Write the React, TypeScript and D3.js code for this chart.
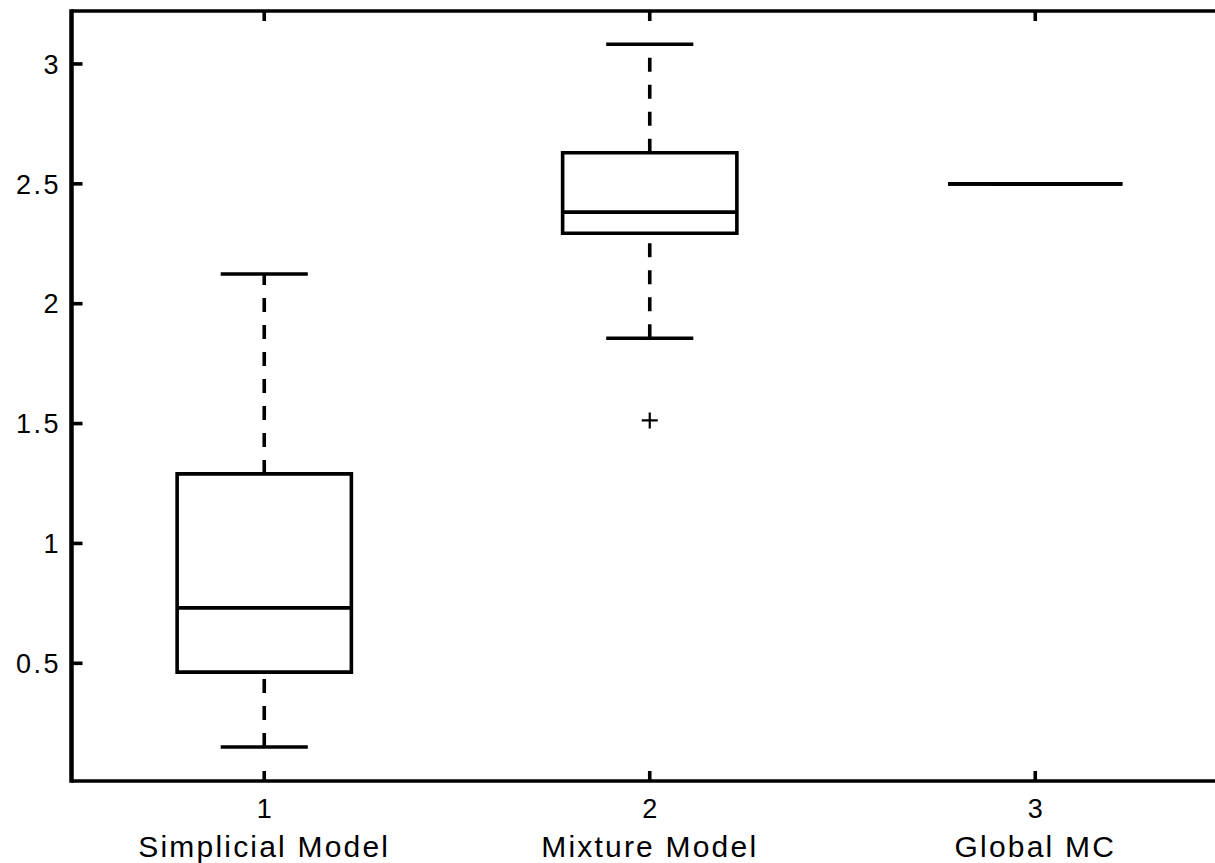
// App.tsx
import React, { useEffect, useRef } from 'react';
import * as d3 from 'd3';

const categories = ['Simplicial Model', 'Mixture Model', 'Global MC'];
const positions = [1, 2, 3];
const lowerWhisker = [0.151, 1.856, 2.5];
const q1 = [0.463, 2.294, 2.5];
const median = [0.731, 2.382, 2.5];
const q3 = [1.29, 2.63, 2.5];
const upperWhisker = [2.124, 3.082, 2.5];
const outliers = [[], [1.513], []];
const yTicks = [0.5, 1, 1.5, 2, 2.5, 3];

const App = () => {
  const svgRef = useRef(null);

  useEffect(() => {
    const width = 1215;
    const height = 863;
    const left = 71.5;
    const top = 11;
    const bottom = 781;

    d3.select(svgRef.current).selectAll('*').remove();

    const x = d3.scaleLinear().domain([0.5, 3.5]).range([left, left + 3 * 385.5]);
    const y = d3.scaleLinear().domain([0.009, 3.221]).range([bottom, top]);

    const svg = d3.select(svgRef.current)
      .attr('width', width)
      .attr('height', height);

    const fontFamily = '"Liberation Sans", Arial, Helvetica, sans-serif';
    const boxHalf = 0.226;
    const capHalf = 0.113;

    // boxes
    const g = svg.append('g')
      .attr('stroke', '#000')
      .attr('fill', 'none')
      .attr('stroke-width', 3.6);

    positions.forEach((p, i) => {
      // whiskers drawn from the lower value to the higher one
      g.append('line')
        .attr('x1', x(p)).attr('x2', x(p))
        .attr('y1', y(lowerWhisker[i])).attr('y2', y(q1[i]))
        .attr('stroke-dasharray', '14,13');
      g.append('line')
        .attr('x1', x(p)).attr('x2', x(p))
        .attr('y1', y(q3[i])).attr('y2', y(upperWhisker[i]))
        .attr('stroke-dasharray', '14,13');

      // caps
      [lowerWhisker[i], upperWhisker[i]].forEach(v => {
        g.append('line')
          .attr('x1', x(p - capHalf)).attr('x2', x(p + capHalf))
          .attr('y1', y(v)).attr('y2', y(v));
      });

      // box
      const x0 = x(p - boxHalf);
      const x1 = x(p + boxHalf);
      g.append('path')
        .attr('d', `M${x0},${y(q3[i])}H${x1}V${y(q1[i])}H${x0}Z`);

      // median
      g.append('line')
        .attr('x1', x0).attr('x2', x1)
        .attr('y1', y(median[i])).attr('y2', y(median[i]));

      // outliers
      outliers[i].forEach(v => {
        g.append('path')
          .attr('d', `M${x(p) - 8},${y(v)}H${x(p) + 8}M${x(p)},${y(v) - 8}V${y(v) + 8}`)
          .attr('stroke-width', 2.2);
      });
    });

    // axes frame
    const frame = svg.append('g').attr('stroke', '#000').attr('stroke-width', 3.6);
    frame.append('line').attr('x1', left).attr('x2', x(3.5)).attr('y1', top).attr('y2', top);
    frame.append('line').attr('x1', left).attr('x2', x(3.5)).attr('y1', bottom).attr('y2', bottom);
    frame.append('line').attr('x1', left).attr('x2', left).attr('y1', top - 1.8).attr('y2', bottom + 1.8)
      .attr('stroke-width', 4.5);

    // ticks (inward)
    positions.forEach(p => {
      frame.append('line').attr('x1', x(p)).attr('x2', x(p)).attr('y1', top).attr('y2', top + 10);
      frame.append('line').attr('x1', x(p)).attr('x2', x(p)).attr('y1', bottom).attr('y2', bottom - 10);
    });
    yTicks.forEach(t => {
      frame.append('line').attr('x1', left).attr('x2', left + 11).attr('y1', y(t)).attr('y2', y(t));
    });

    // labels
    svg.append('g')
      .selectAll('text')
      .data(yTicks)
      .enter()
      .append('text')
      .attr('x', 61)
      .attr('y', t => y(t))
      .attr('dy', '0.36em')
      .attr('text-anchor', 'end')
      .attr('font-family', fontFamily)
      .attr('font-size', 27)
      .attr('letter-spacing', 2.5)
      .text(t => String(t));

    svg.append('g')
      .selectAll('text')
      .data(positions)
      .enter()
      .append('text')
      .attr('x', p => x(p))
      .attr('y', 818)
      .attr('text-anchor', 'middle')
      .attr('font-family', fontFamily)
      .attr('font-size', 27)
      .text(p => String(p));

    svg.append('g')
      .selectAll('text')
      .data(categories)
      .enter()
      .append('text')
      .attr('x', (c, i) => x(positions[i]))
      .attr('y', 857)
      .attr('text-anchor', 'middle')
      .attr('font-family', fontFamily)
      .attr('font-size', 30)
      .attr('letter-spacing', 2.2)
      .text(c => c);
  }, []);

  return (
    <svg
      ref={svgRef}
      style={{ position: 'absolute', left: 0, top: 0, background: '#fff' }}
    ></svg>
  );
};

export default App;
